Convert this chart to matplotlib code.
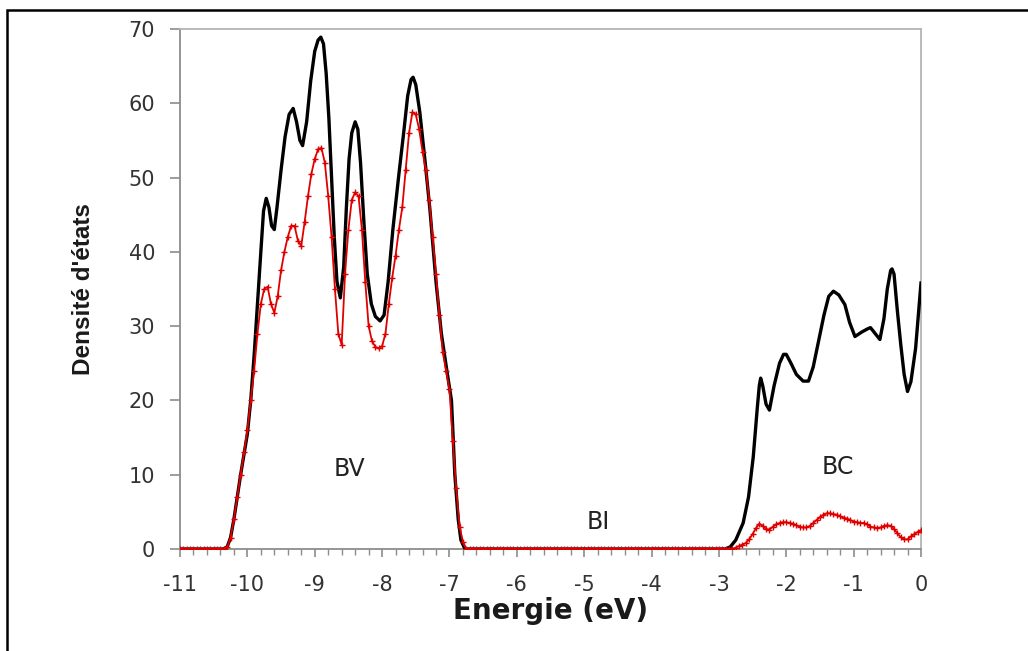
import numpy as np
import matplotlib.pyplot as plt
from matplotlib.patches import Rectangle

# total density of states (black curve), energy in eV
e_total = [-11.0, -10.35, -10.30, -10.25, -10.20, -10.10, -10.00, -9.95, -9.90, -9.85,
           -9.80, -9.76, -9.72, -9.68, -9.64, -9.60, -9.56, -9.50, -9.44, -9.38,
           -9.32, -9.27, -9.22, -9.18, -9.12, -9.06, -9.00, -8.95, -8.91, -8.87,
           -8.83, -8.79, -8.75, -8.71, -8.67, -8.62, -8.57, -8.53, -8.49, -8.45,
           -8.40, -8.36, -8.32, -8.27, -8.22, -8.16, -8.10, -8.03, -7.97, -7.91,
           -7.84, -7.75, -7.68, -7.62, -7.57, -7.54, -7.50, -7.44, -7.36, -7.29,
           -7.20, -7.12, -7.04, -6.97, -6.92, -6.87, -6.83, -6.77,
           -2.90, -2.83, -2.75, -2.64, -2.56, -2.49, -2.43, -2.40, -2.38, -2.35,
           -2.30, -2.25, -2.18, -2.10, -2.04, -2.00, -1.93, -1.85, -1.75, -1.67,
           -1.60, -1.52, -1.44, -1.37, -1.30, -1.22, -1.13, -1.06, -0.98, -0.88,
           -0.80, -0.75, -0.68, -0.61, -0.55, -0.50, -0.45, -0.43, -0.40, -0.35,
           -0.30, -0.25, -0.20, -0.15, -0.08, 0.0]
dos_total = [0, 0, 0.3, 1.5, 4, 10, 15.5, 20, 26, 33,
             40, 45.5, 47.2, 46, 43.5, 43.0, 46, 51, 55.5, 58.5,
             59.3, 57.5, 55, 54.3, 57.5, 63, 67, 68.5, 68.9, 68,
             64, 58, 50, 42, 36, 33.8, 38, 46, 52.5, 56,
             57.5, 56.5, 52, 44, 37, 33, 31.3, 30.7, 31.5, 36,
             43, 50.5, 56, 61, 63.2, 63.5, 62.5, 58.8, 52, 45.7,
             36, 29, 24.1, 20, 10, 4, 1.2, 0,
             0, 0.3, 1.2, 3.5, 7, 12.4, 19, 22, 23.0, 22,
             19.5, 18.7, 22, 25, 26.2, 26.2, 25, 23.5, 22.6, 22.6,
             24.5, 28, 31.5, 34, 34.7, 34.2, 32.9, 30.5, 28.6, 29.2,
             29.6, 29.8, 29.0, 28.2, 31, 35, 37.5, 37.7, 37, 32,
             27.5, 23.5, 21.2, 22.5, 27, 35.8]

# partial density of states (red curve), sampled every 0.05 eV from -11 to 0
e_partial = np.round(np.arange(-11.0, 0.001, 0.05), 2)
dos_partial = ([0.0] * 14 +
               [0.3, 1.5, 4, 7, 10, 13, 16,
                20, 24, 29, 33, 35, 35.3, 33, 31.8, 34, 37.5,
                40, 42, 43.5, 43.5, 41.5, 40.8, 44, 47.5, 50.5, 52.5,
                53.8, 54, 52, 47.5, 42, 35, 29, 27.5, 37, 43,
                47, 48, 47.5, 43, 36, 30, 28, 27.2, 27, 27.3,
                29, 33, 36.5, 39.5, 43, 46, 51, 56, 58.8, 58.5,
                56.5, 53.5, 51, 47, 42, 37, 31.5, 26.5, 24, 21.5,
                14.5, 8.2, 3.0, 1.0] +
               [0.0] * 79 +
               [0, 0.2, 0.4, 0.6, 0.8, 1.3, 2.0, 2.8, 3.4, 3.1, 2.7, 2.6, 3.0,
                3.3, 3.5, 3.6, 3.6,
                3.5, 3.4, 3.2, 3.0, 2.9, 2.9, 3.1, 3.5, 3.9, 4.3,
                4.6, 4.8, 4.8, 4.7, 4.6, 4.4, 4.2, 4.1, 3.9, 3.7,
                3.6, 3.5, 3.5, 3.3, 3.0, 2.9, 2.8, 2.9, 3.1, 3.2,
                3.1, 2.7, 2.1, 1.6, 1.3, 1.3, 1.7, 2.0, 2.3, 2.5])

band_labels = ["BV", "BI", "BC"]
band_x = [-8.48, -4.79, -1.23]
band_y = [10.8, 3.6, 11.0]

plt.rcParams['font.family'] = ['DejaVu Sans']
plt.rcParams['axes.unicode_minus'] = False

fig = plt.figure(figsize=(10.28, 6.51), dpi=100)
ax = fig.add_axes([0.1751, 0.1567, 0.7208, 0.7988])

ax.plot(e_total, dos_total, color='black', lw=2.4, zorder=3)
ax.plot(e_partial, dos_partial, color='#e00000', lw=1.3, marker='+',
        ms=4.5, mew=1.0, zorder=4)

for lab, x, y in zip(band_labels, band_x, band_y):
    ax.text(x, y, lab, fontsize=17, ha='center', va='center', color='#222222')

ax.set_xlim(-11, 0)
ax.set_ylim(0, 70)
ax.set_xticks(range(-11, 1))
ax.set_xticks(np.arange(-11, 0.01, 0.2), minor=True)
ax.set_yticks(range(0, 71, 10))

for side in ['left', 'bottom', 'top', 'right']:
    ax.spines[side].set_color('#8c8c8c')
    ax.spines[side].set_linewidth(1.3)
ax.spines['top'].set_color('#b4b4b4')
ax.spines['right'].set_color('#b4b4b4')

ax.tick_params(axis='y', which='major', direction='out', length=7, width=1.2,
               color='#8c8c8c', labelsize=15, labelcolor='#333333', pad=11)
ax.tick_params(axis='x', which='major', direction='out', length=6, width=1.2,
               color='#8c8c8c', labelsize=15, labelcolor='#333333', pad=12.5)
ax.tick_params(axis='x', which='minor', direction='out', length=4, width=1.0,
               color='#8c8c8c')

ax.set_xlabel("Energie (eV)", fontsize=20, fontweight='bold', labelpad=2,
              color='#1a1a1a')
ax.set_ylabel("Densité d'états", fontsize=17.5, fontweight='bold', labelpad=24,
              family=['Liberation Sans', 'DejaVu Sans'], color='#1a1a1a')

# frame around the whole figure
fig.add_artist(Rectangle((7 / 1028, -0.5), 2.0, 0.5 + (651 - 10) / 651,
                         transform=fig.transFigure, fill=False,
                         edgecolor='black', lw=1.8, clip_on=False))

fig.savefig("out.png", dpi=100)
